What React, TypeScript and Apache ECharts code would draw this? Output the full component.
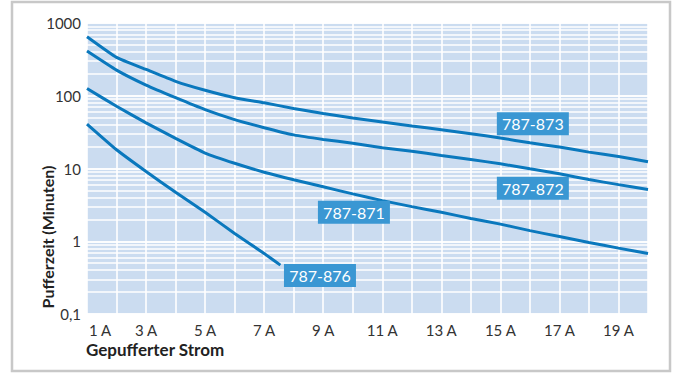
import React, { useEffect, useRef } from "react";
import * as echarts from "echarts";

// Gepufferter Strom (A)
const amps = [1, 2, 3, 4, 5, 6, 7, 8, 9, 10, 11, 12, 13, 14, 15, 16, 17, 18, 19, 20];
// Pufferzeit (Minuten)
const s873 = [647, 337, 230, 158, 119, 94, 80, 67, 57, 49.4, 43.5, 38.3, 34.2, 30.1, 26.2, 22.6, 19.7, 16.8, 14.6, 12.4];
const s872 = [411, 225, 140, 94, 64.5, 47, 36.4, 29.0, 25.1, 22.3, 19.3, 17.3, 15.1, 13.3, 11.6, 9.9, 8.45, 7.05, 6.0, 5.13];
const s871 = [126, 71.6, 42.4, 25.9, 16.3, 11.8, 8.9, 7.0, 5.6, 4.48, 3.62, 2.99, 2.5, 2.06, 1.72, 1.4, 1.16, 0.96, 0.805, 0.68];
const amps876 = [1, 2, 3, 4, 5, 6, 7, 7.55];
const s876 = [40.8, 18.1, 9.1, 4.71, 2.5, 1.28, 0.68, 0.47];

const seriesNames = ["787-873", "787-872", "787-871", "787-876"];
// label box anchors [A, Minuten]
const labelAnchors: [number, number][] = [
  [16.1, 41.1],
  [16.1, 5.35],
  [10.04, 2.5],
  [8.89, 0.337],
];

const yTickLabels: Record<string, string> = { "0.1": "0,1", "1": "1", "10": "10", "100": "100", "1000": "1000" };
const xLabelValues = [1, 3, 5, 7, 9, 11, 13, 15, 17, 19];

const decades = [0.1, 1, 10, 100];
const gridValues: number[] = [];
decades.forEach((d) => {
  for (let m = 1; m <= 9; m++) gridValues.push(+(d * m).toPrecision(3));
});
gridValues.push(1000);

const FONT = "Lato, 'Open Sans', sans-serif";
const LINE = "#0a78bd";
const BOX = "#3a97d3";

export default function App() {
  const ref = useRef<HTMLDivElement>(null);
  useEffect(() => {
    if (!ref.current) return;
    const chart = echarts.init(ref.current, undefined, { renderer: "svg" });
    const mk = (xs: number[], ys: number[]) => xs.map((x, i) => [x, ys[i]]);
    const lines = [mk(amps, s873), mk(amps, s872), mk(amps, s871), mk(amps876, s876)];
    chart.setOption({
      animation: false,
      grid: {
        left: 87,
        top: 23,
        right: 32,
        bottom: 60,
        show: true,
        backgroundColor: "#cbdcf0",
        borderWidth: 0,
      },
      xAxis: {
        type: "value",
        min: 1,
        max: 20,
        interval: 1,
        axisLine: { show: false },
        axisTick: { show: false },
        splitLine: { show: true, lineStyle: { color: "#ffffff", width: 1.6 } },
        axisLabel: {
          show: true,
          margin: 8,
          color: "#333333",
          fontSize: 15,
          fontFamily: FONT,
          showMinLabel: true,
          formatter: (v: number) => {
            if (!xLabelValues.includes(v)) return "";
            if (v === 1) return "{first|1 A}";
            return v + " A";
          },
          rich: {
            first: { padding: [0, 0, 0, 26], color: "#333333", fontSize: 15, fontFamily: FONT },
          },
        },
      },
      yAxis: {
        type: "log",
        logBase: 10,
        min: 0.1,
        max: 1000,
        axisLine: { show: false },
        axisTick: { show: false },
        splitLine: { show: true, lineStyle: { color: "#ffffff", width: 1.6 } },
        axisLabel: {
          margin: 6,
          color: "#333333",
          fontSize: 15,
          fontFamily: FONT,
          formatter: (v: number) => yTickLabels[String(v)] ?? "",
        },
      },
      series: [
        {
          type: "line",
          name: "grid",
          data: [],
          z: 1,
          silent: true,
          markLine: {
            z: 1,
            silent: true,
            symbol: "none",
            label: { show: false },
            lineStyle: { color: "#ffffff", width: 1.6, type: "solid" },
            data: gridValues.map((v) => ({ yAxis: v })),
          },
        },
        ...lines.map((d, i) => ({
          type: "line",
          name: seriesNames[i],
          data: d,
          z: 5,
          symbol: "none",
          smooth: 0.15,
          lineStyle: { color: LINE, width: 3 },
          markPoint: {
            z: 6,
            symbol: "rect",
            symbolSize: [72, 23],
            itemStyle: { color: BOX },
            label: {
              show: true,
              position: "inside",
              color: "#ffffff",
              fontSize: 16,
              fontFamily: FONT,
              formatter: seriesNames[i],
            },
            data: [{ coord: labelAnchors[i] }],
          },
        })),
      ],
      graphic: [
        {
          type: "rect",
          z: -10,
          shape: { x: 12, y: 2, width: 658, height: 369 },
          style: { fill: "none", stroke: "#c8c8c8", lineWidth: 2.5 },
        },
        {
          type: "text",
          x: 86,
          y: 349,
          style: {
            text: "Gepufferter Strom",
            font: `bold 17px ${FONT}`,
            fill: "#222222",
            textAlign: "left",
            textVerticalAlign: "middle",
          },
        },
        {
          type: "text",
          x: 47,
          y: 237,
          rotation: Math.PI / 2,
          style: {
            text: "Pufferzeit (Minuten)",
            font: `bold 16px ${FONT}`,
            fill: "#222222",
            textAlign: "center",
            textVerticalAlign: "middle",
          },
        },
      ],
    });
    return () => chart.dispose();
  }, []);
  return (
    <div
      ref={ref}
      style={{ position: "absolute", left: 0, top: 0, width: 680, height: 374, background: "#ffffff" }}
    />
  );
}
